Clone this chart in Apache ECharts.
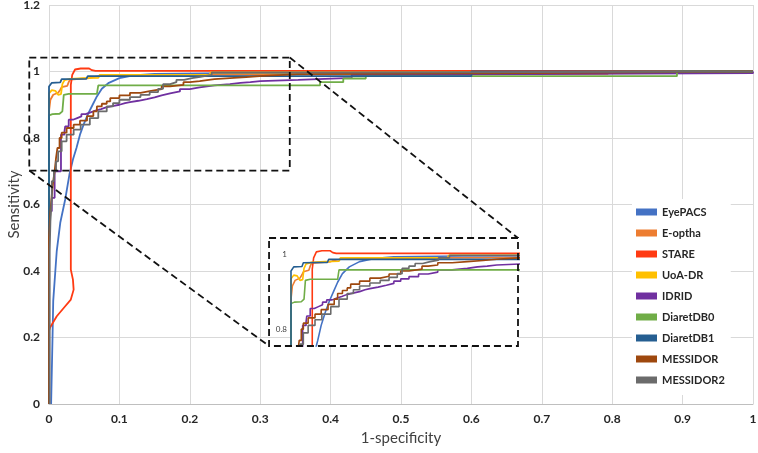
<!DOCTYPE html>
<html><head><meta charset="utf-8">
<script src="https://cdn.jsdelivr.net/npm/echarts@6/dist/echarts.min.js"></script>
<style>html,body{margin:0;padding:0;background:#fff}#c{width:758px;height:453px}</style>
</head><body><div id="c"></div>
<script>
const seriesNames = ['EyePACS','E-optha','STARE','UoA-DR','IDRID','DiaretDB0','DiaretDB1','MESSIDOR','MESSIDOR2'];
const seriesColors = ['#4472C4','#ED7D31','#FF3A12','#FFC000','#7030A0','#70AD47','#255E91','#9E480E','#6B6B6B'];
const xTicks = [0,0.1,0.2,0.3,0.4,0.5,0.6,0.7,0.8,0.9,1];
const yTicks = [0,0.2,0.4,0.6,0.8,1,1.2];
const insetYLabels = [0.8,1];

const eyepacsX = [0.003,0.004,0.005,0.006,0.009,0.011,0.016,0.023,0.029,0.034,0.039,0.044,0.05,0.056,0.062,0.068,0.075,0.085,0.1,0.12,0.15,0.25,0.62,1];
const eyepacsY = [0,0.1,0.2,0.31,0.4,0.46,0.545,0.615,0.69,0.735,0.77,0.81,0.845,0.875,0.9,0.925,0.948,0.966,0.98,0.988,0.993,0.995,0.997,1];
const eopthaX = [0,0,0.002,0.006,0.013,0.016,0.018,0.026,0.028,0.03,0.058,0.062,0.075,0.2,0.5,0.794,0.794,1];
const eopthaY = [0,0.88,0.915,0.93,0.936,0.945,0.953,0.957,0.968,0.976,0.98,0.983,0.987,0.99,0.992,0.993,1,1];
const stareX = [0,0,0.0015,0.011,0.023,0.031,0.035,0.034,0.031,0.031,0.031,0.033,0.037,0.045,0.057,0.061,0.066,1];
const stareY = [0,0.22,0.23,0.264,0.294,0.314,0.344,0.374,0.404,0.8,0.96,0.99,1.006,1.009,1.009,1.004,1.002,1.002];
const uoadrX = [0,0,0.004,0.009,0.013,0.017,0.019,0.022,0.03,0.05,0.07,0.072,0.228,0.23,0.47,0.47,1];
const uoadrY = [0,0.934,0.944,0.942,0.93,0.932,0.962,0.974,0.978,0.98,0.981,0.99,0.99,0.997,0.997,1,1];
const idridX = [0,0,0.004,0.008,0.017,0.022,0.023,0.028,0.034,0.04,0.046,0.052,0.06,0.067,0.074,0.081,0.09,0.1,0.108,0.115,0.127,0.139,0.15,0.16,0.172,0.186,0.2,0.214,0.235,0.257,0.272,0.286,0.3,0.354,0.43,0.453,1,1];
const idridY = [0,0.58,0.62,0.7,0.81,0.82,0.835,0.855,0.86,0.865,0.872,0.878,0.883,0.887,0.892,0.896,0.9,0.905,0.908,0.912,0.917,0.922,0.928,0.934,0.94,0.947,0.952,0.958,0.962,0.966,0.968,0.971,0.975,0.981,0.99,0.995,0.995,1];
const diaretdb0X = [0,0,0.005,0.015,0.019,0.021,0.028,0.068,0.07,0.385,0.385,0.418,0.418,0.45,0.45,0.892,0.892,1];
const diaretdb0Y = [0,0.868,0.872,0.873,0.88,0.93,0.933,0.933,0.958,0.958,0.968,0.968,0.979,0.979,0.986,0.986,1,1];
const diaretdb1X = [0,0,0.004,0.016,0.018,0.053,0.055,0.6,0.6,1];
const diaretdb1Y = [0,0.955,0.966,0.967,0.977,0.978,0.986,0.986,1,1];
const messidorX = [0,0,0.002,0.004,0.006,0.008,0.01,0.012,0.015,0.018,0.025,0.035,0.044,0.054,0.063,0.068,0.075,0.082,0.087,0.1,0.115,0.13,0.143,0.16,0.172,0.191,0.2,0.214,0.235,0.257,0.28,0.304,0.333,0.352,0.67,0.67,1];
const messidorY = [0,0.5,0.58,0.63,0.67,0.7,0.74,0.77,0.8,0.816,0.83,0.84,0.852,0.866,0.88,0.895,0.903,0.91,0.92,0.928,0.936,0.941,0.947,0.955,0.96,0.968,0.971,0.977,0.98,0.983,0.987,0.99,0.992,0.995,0.996,1,1];
const messidor2X = [0.001,0.001,0.002,0.004,0.004,0.007,0.01,0.013,0.018,0.025,0.035,0.045,0.058,0.07,0.082,0.091,0.1,0.115,0.13,0.143,0.155,0.162,0.172,0.181,0.192,0.203,0.215,0.231,0.42,1];
const messidor2Y = [0,0.46,0.55,0.62,0.67,0.7,0.73,0.76,0.79,0.81,0.825,0.84,0.86,0.88,0.895,0.905,0.915,0.923,0.93,0.938,0.948,0.962,0.968,0.975,0.98,0.984,0.99,0.997,1,1];

const seriesX = [eyepacsX,eopthaX,stareX,uoadrX,idridX,diaretdb0X,diaretdb1X,messidorX,messidor2X];
const seriesY = [eyepacsY,eopthaY,stareY,uoadrY,idridY,diaretdb0Y,diaretdb1Y,messidorY,messidor2Y];
const stepped = [false,false,false,false,true,false,false,true,true];

// zoom region (data units of main chart) and inset ranges
const zoomRegion = {x0:-0.028, x1:0.342, y0:0.702, y1:1.042};
const insetRange = {xmin:0, xmax:0.331, xBoxLeft:-0.032, ymin:0.755, ymax:1.043};

const FONT = 'Lato, "Open Sans", sans-serif';
const chart = echarts.init(document.getElementById('c'), null, {renderer:'canvas'});

function pairs(xs, ys){ return xs.map((v,i)=>[v, ys[i]]); }

const series = [];
seriesNames.forEach((n,i)=>{
  series.push({
    name:n, type:'line', showSymbol:false, symbol:'none',
    data: pairs(seriesX[i], seriesY[i]),
    step: stepped[i] ? 'end' : false,
    lineStyle:{width:1.8, color:seriesColors[i]},
    itemStyle:{color:seriesColors[i]},
    z: 2 + i*0.01, clip:true, animation:false, silent:true
  });
});
seriesNames.forEach((n,i)=>{
  series.push({
    name:n, type:'line', showSymbol:false, symbol:'none',
    xAxisIndex:1, yAxisIndex:1,
    data: pairs(seriesX[i], seriesY[i]),
    step: stepped[i] ? 'end' : false,
    lineStyle:{width:1.6, color:seriesColors[i]},
    itemStyle:{color:seriesColors[i]},
    z: 5 + i*0.01, clip:true, animation:false, silent:true
  });
});

const option = {
  backgroundColor:'#fff',
  animation:false,
  textStyle:{fontFamily:FONT},
  grid:[
    {left:49, right:5, top:5, bottom:49, containLabel:false, outerBoundsMode:'none'},
    {left:291, right:240, top:238, bottom:107, containLabel:false, outerBoundsMode:'none', show:true, backgroundColor:'#fff', borderWidth:0, z:4}
  ],
  legend:{
    orient:'vertical', left:632, top:199,
    data:seriesNames, icon:'rect', itemWidth:21, itemHeight:7, itemGap:7,
    backgroundColor:'#fff', padding:[6,6,8,4],
    textStyle:{fontFamily:FONT, fontSize:11, fontWeight:'bold', color:'#262626', lineHeight:14},
    selectedMode:false, z:10
  },
  xAxis:[
    {type:'value', min:0, max:1, interval:0.1, gridIndex:0,
     name:'1-specificity', nameLocation:'middle', nameGap:27, nameMoveOverlap:false,
     nameTextStyle:{fontFamily:FONT, fontSize:15, color:'#404040'},
     axisLine:{show:true, lineStyle:{color:'#BFBFBF', width:1}},
     axisTick:{show:false},
     axisLabel:{fontFamily:FONT, fontSize:12, fontWeight:'bold', color:'#262626', margin:9,
       formatter:v=>String(xTicks.find(t=>Math.abs(t-v)<1e-9) ?? v)},
     splitLine:{show:true, lineStyle:{color:'#D9D9D9', width:1}}},
    {type:'value', min:insetRange.xmin, max:insetRange.xmax, interval:0.1, gridIndex:1,
     axisLine:{show:false}, axisTick:{show:false}, axisLabel:{show:false},
     splitLine:{show:true, showMaxLine:false, lineStyle:{color:'#D9D9D9', width:1}}}
  ],
  yAxis:[
    {type:'value', min:0, max:1.2, interval:0.2, gridIndex:0,
     name:'Sensitivity', nameLocation:'middle', nameGap:27, nameRotate:90, nameMoveOverlap:false,
     nameTextStyle:{fontFamily:FONT, fontSize:15, color:'#404040'},
     axisLine:{show:false}, axisTick:{show:false},
     axisLabel:{fontFamily:FONT, fontSize:12, fontWeight:'bold', color:'#262626', margin:9,
       formatter:v=>String(yTicks.find(t=>Math.abs(t-v)<1e-9) ?? v)},
     splitLine:{show:true, lineStyle:{color:'#D9D9D9', width:1}}},
    {type:'value', min:insetRange.ymin, max:insetRange.ymax, gridIndex:1,
     axisLine:{show:false},
     axisTick:{show:false, customValues:insetYLabels},
     axisLabel:{show:true, customValues:insetYLabels, fontFamily:FONT, fontSize:8, color:'#404040', margin:4},
     splitLine:{show:true, lineStyle:{color:'#D9D9D9', width:1}}}
  ],
  series: series
};
chart.setOption(option);

function drawAnnotations(){
  const c0 = {xAxisIndex:0, yAxisIndex:0};
  const c1 = {xAxisIndex:1, yAxisIndex:1};
  const mTL = chart.convertToPixel(c0, [zoomRegion.x0, zoomRegion.y1]);
  const mBR = chart.convertToPixel(c0, [zoomRegion.x1, zoomRegion.y0]);
  const iTL = chart.convertToPixel(c1, [insetRange.xBoxLeft, insetRange.ymax]);
  const iBR = chart.convertToPixel(c1, [insetRange.xmax, insetRange.ymin]);
  const ds = {fill:'none', stroke:'#111', lineWidth:1.8, lineDash:[7,4]};
  chart.setOption({graphic:[
    {type:'rect', z:20, shape:{x:mTL[0], y:mTL[1], width:mBR[0]-mTL[0], height:mBR[1]-mTL[1]}, style:ds, silent:true},
    {type:'rect', z:20, shape:{x:iTL[0], y:iTL[1], width:iBR[0]-iTL[0], height:iBR[1]-iTL[1]}, style:ds, silent:true},
    {type:'line', z:20, shape:{x1:mBR[0], y1:mTL[1], x2:iBR[0], y2:iTL[1]}, style:ds, silent:true},
    {type:'line', z:20, shape:{x1:mTL[0], y1:mBR[1], x2:iTL[0], y2:iBR[1]}, style:ds, silent:true}
  ]});
}
drawAnnotations();
</script>
</body></html>
